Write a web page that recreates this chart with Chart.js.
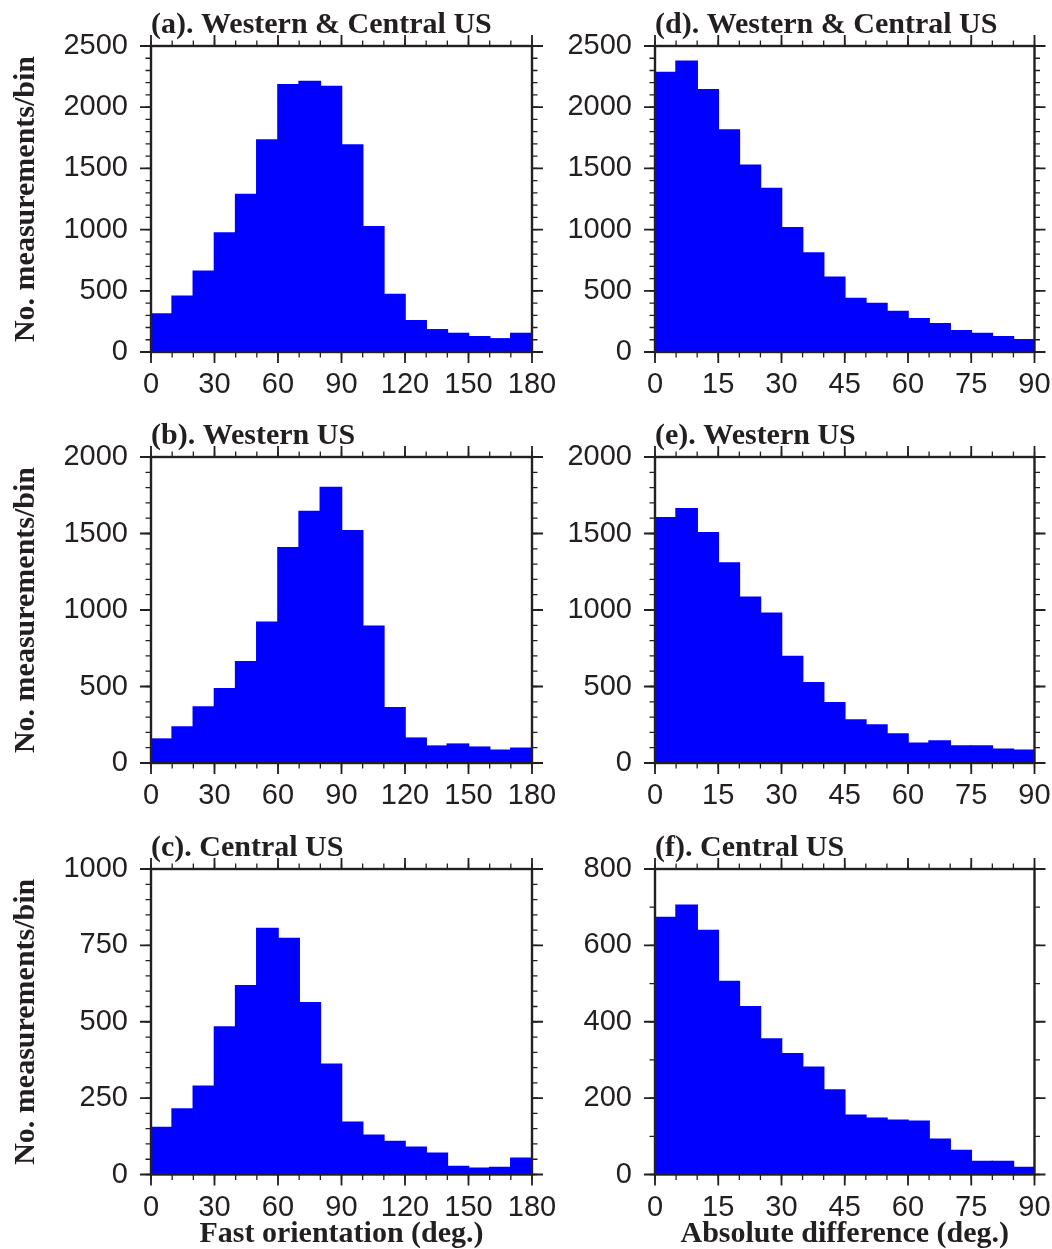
<!DOCTYPE html>
<html>
<head>
<meta charset="utf-8">
<title>Splitting histograms</title>
<script src="https://cdn.jsdelivr.net/npm/chart.js@4.4.1/dist/chart.umd.min.js"></script>
<style>
  html, body { margin: 0; padding: 0; background: #fff; }
  #page { position: relative; width: 1052px; height: 1249px; overflow: hidden; background: #fff; }
  canvas { position: absolute; }
</style>
</head>
<body>
<div id="page">
  <canvas id="panelA" width="560" height="410" style="left:0px;top:0px"></canvas>
  <canvas id="panelD" width="492" height="410" style="left:560px;top:0px"></canvas>
  <canvas id="panelB" width="560" height="410" style="left:0px;top:410px"></canvas>
  <canvas id="panelE" width="492" height="410" style="left:560px;top:410px"></canvas>
  <canvas id="panelC" width="560" height="429" style="left:0px;top:820px"></canvas>
  <canvas id="panelF" width="492" height="429" style="left:560px;top:820px"></canvas>
</div>
<script>
// bin centres (deg.)
const fastBinCenters = [5, 15, 25, 35, 45, 55, 65, 75, 85, 95, 105, 115, 125, 135, 145, 155, 165, 175];
const diffBinCenters = [2.5, 7.5, 12.5, 17.5, 22.5, 27.5, 32.5, 37.5, 42.5, 47.5, 52.5, 57.5, 62.5, 67.5, 72.5, 77.5, 82.5, 87.5];

// counts per bin
const countsFastAll     = [310, 456, 659, 972, 1286, 1731, 2184, 2209, 2168, 1690, 1022, 470, 255, 181, 151, 124, 107, 151];
const countsFastWest    = [156, 235, 366, 485, 662, 919, 1406, 1643, 1800, 1518, 893, 360, 162, 110, 123, 103, 83, 96];
const countsFastCentral = [154, 214, 289, 483, 618, 805, 772, 562, 361, 171, 128, 108, 89, 69, 26, 20, 23, 53];
const countsDiffAll     = [2283, 2374, 2143, 1813, 1525, 1335, 1014, 808, 610, 437, 396, 330, 272, 231, 173, 151, 124, 99];
const countsDiffWest    = [1603, 1662, 1504, 1307, 1083, 978, 695, 524, 393, 281, 248, 189, 129, 143, 110, 110, 90, 83];
const countsDiffCentral = [673, 705, 639, 505, 439, 355, 316, 281, 221, 155, 147, 142, 139, 92, 63, 34, 34, 18];

// axis ranges / tick steps
const fastAxis = { max: 180, step: 30, minor: 10 };
const diffAxis = { max: 90, step: 15, minor: 5 };
const yAxisAll     = { max: 2500, step: 500, minor: 100 };
const yAxisWest    = { max: 2000, step: 500, minor: 100 };
const yAxisCentral = { max: 1000, step: 250, minor: 50 };
const yAxisDiffCentral = { max: 800, step: 200, minor: 100 };

const INK = "#231f20";
const BAR = "#0000ff";
const SERIF = "'Liberation Serif', 'Times New Roman', serif";
const SANS = "'Liberation Sans', Arial, Helvetica, sans-serif";

/* ===========================
   FRAME + TICKS (all four sides)
=========================== */

const frameTicks = {
  id: "frameTicks",
  afterDraw(chart, args, opts) {
    const { ctx, chartArea: a, scales: { x, y } } = chart;
    ctx.save();
    ctx.strokeStyle = INK;

    function xTicks(values, len, lw) {
      ctx.lineWidth = lw;
      ctx.beginPath();
      values.forEach(v => {
        const px = x.getPixelForValue(v);
        ctx.moveTo(px, a.bottom); ctx.lineTo(px, a.bottom + len);
        ctx.moveTo(px, a.top); ctx.lineTo(px, a.top - len);
      });
      ctx.stroke();
    }
    function yTicks(values, len, lw) {
      ctx.lineWidth = lw;
      ctx.beginPath();
      values.forEach(v => {
        const py = y.getPixelForValue(v);
        ctx.moveTo(a.left, py); ctx.lineTo(a.left - len, py);
        ctx.moveTo(a.right, py); ctx.lineTo(a.right + len, py);
      });
      ctx.stroke();
    }
    function steps(scale, step) {
      const out = [];
      for (let v = scale.min; v <= scale.max + 1e-9; v += step) out.push(v);
      return out;
    }

    xTicks(steps(x, opts.xMinor), 5.5, 1.3);
    yTicks(steps(y, opts.yMinor), 5.5, 1.3);
    xTicks(x.ticks.map(t => t.value), 11, 1.8);
    yTicks(y.ticks.map(t => t.value), 11, 1.8);

    ctx.lineWidth = 2.4;
    ctx.strokeRect(a.left, a.top, a.right - a.left, a.bottom - a.top);
    ctx.restore();
  }
};

/* ===========================
   ONE HISTOGRAM PANEL
=========================== */

function makePanel(id, p) {
  const ctx = document.getElementById(id).getContext("2d");
  return new Chart(ctx, {
    type: "bar",
    data: {
      datasets: [{
        data: p.centers.map((c, i) => ({ x: c, y: p.counts[i] })),
        backgroundColor: BAR,
        borderWidth: 0,
        inflateAmount: 0.8,
        barPercentage: 1,
        categoryPercentage: 1
      }]
    },
    options: {
      responsive: false,
      animation: false,
      devicePixelRatio: 1,
      layout: { padding: { top: p.padTop, right: p.padRight, left: 0, bottom: 0 } },
      plugins: {
        legend: { display: false },
        tooltip: { enabled: false },
        title: {
          display: true,
          text: p.title,
          align: "start",
          fullSize: false,
          color: INK,
          font: { family: SERIF, size: 30, weight: "bold", lineHeight: 1 },
          padding: { top: 4, bottom: 6 }
        },
        frameTicks: { xMinor: p.xAxis.minor, yMinor: p.yAxis.minor }
      },
      scales: {
        x: {
          type: "linear",
          min: 0,
          max: p.xAxis.max,
          offset: false,
          grid: { display: false, drawTicks: false, offset: false },
          border: { display: false },
          ticks: {
            stepSize: p.xAxis.step,
            autoSkip: false,
            maxRotation: 0,
            padding: 0,
            color: INK,
            font: { family: SANS, size: 29, lineHeight: 2.28 },
            callback: v => String(v)
          },
          title: {
            display: !!p.xTitle,
            text: p.xTitle || "",
            color: INK,
            font: { family: SERIF, size: 30, weight: "bold", lineHeight: 1 },
            padding: { top: 0, bottom: 0 }
          },
          afterFit: s => { s.height = p.xHeight; }
        },
        y: {
          min: 0,
          max: p.yAxis.max,
          grid: { display: false, drawTicks: false },
          border: { display: false },
          ticks: {
            stepSize: p.yAxis.step,
            autoSkip: false,
            padding: 23,
            color: INK,
            font: { family: SANS, size: 29, lineHeight: 1.2 },
            callback: v => String(v)
          },
          title: {
            display: !!p.yTitle,
            text: p.yTitle || "",
            color: INK,
            font: { family: SERIF, size: 30, weight: "bold", lineHeight: 1 },
            padding: { top: 11, bottom: 0 }
          },
          afterFit: s => { s.width = p.yWidth; }
        }
      }
    },
    plugins: [frameTicks]
  });
}

const yLabel = "No. measurements/bin";

makePanel("panelA", {
  title: "(a). Western & Central US", centers: fastBinCenters, counts: countsFastAll,
  xAxis: fastAxis, yAxis: yAxisAll, yTitle: yLabel,
  padTop: 6, padRight: 28, yWidth: 151, xHeight: 58
});
makePanel("panelB", {
  title: "(b). Western US", centers: fastBinCenters, counts: countsFastWest,
  xAxis: fastAxis, yAxis: yAxisWest, yTitle: yLabel,
  padTop: 7, padRight: 28, yWidth: 151, xHeight: 57
});
makePanel("panelC", {
  title: "(c). Central US", centers: fastBinCenters, counts: countsFastCentral,
  xAxis: fastAxis, yAxis: yAxisCentral, yTitle: yLabel, xTitle: "Fast orientation (deg.)",
  padTop: 9, padRight: 28, yWidth: 151, xHeight: 74.5
});
makePanel("panelD", {
  title: "(d). Western & Central US", centers: diffBinCenters, counts: countsDiffAll,
  xAxis: diffAxis, yAxis: yAxisAll,
  padTop: 6, padRight: 17.5, yWidth: 95, xHeight: 58
});
makePanel("panelE", {
  title: "(e). Western US", centers: diffBinCenters, counts: countsDiffWest,
  xAxis: diffAxis, yAxis: yAxisWest,
  padTop: 7, padRight: 17.5, yWidth: 95, xHeight: 57
});
makePanel("panelF", {
  title: "(f). Central US", centers: diffBinCenters, counts: countsDiffCentral,
  xAxis: diffAxis, yAxis: yAxisDiffCentral, xTitle: "Absolute difference (deg.)",
  padTop: 9, padRight: 17.5, yWidth: 95, xHeight: 74.5
});
</script>
</body>
</html>
